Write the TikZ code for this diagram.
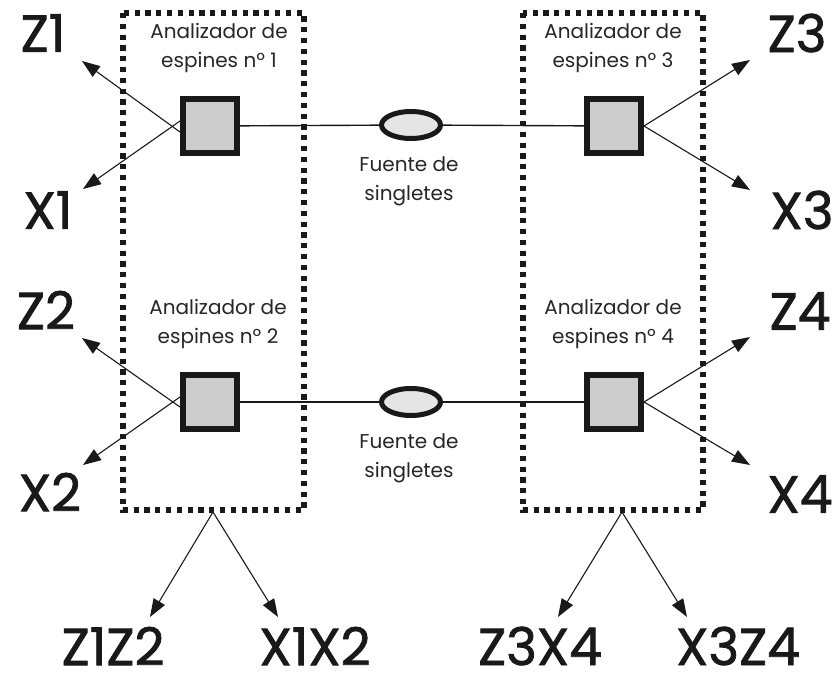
\documentclass[tikz,border=0pt]{standalone}
\usepackage{fontspec}
\setmainfont{Poppins}
\newfontfamily\bigfont[FakeBold=1.5]{Poppins}
\usetikzlibrary{arrows.meta,shapes.geometric}
\tikzset{
  dotbox/.style={line width=5.2pt, dash pattern=on 5.2pt off 5.6pt, draw=black!90},
  analyser/.style={draw=black!90, line width=6pt, fill=black!20!white, minimum size=54pt, inner sep=0pt},
  source/.style={draw=black!90, line width=5pt, fill=black!10!white, ellipse, minimum width=59pt, minimum height=27pt, inner sep=0pt},
  small/.style={font=\fontsize{20}{29}\selectfont, align=center, text=black!85, inner sep=0pt},
  big/.style={font=\bigfont\fontsize{52}{60}\selectfont, text=black!90, inner sep=0pt},
  conn/.style={line width=1.4pt, draw=black!90},
  arr/.style={line width=1.1pt, draw=black!90, -{Triangle[length=18pt,width=13pt]}},
}
\begin{document}
\begin{tikzpicture}[x=1pt,y=-1pt]
\useasboundingbox (0,0) rectangle (839,676);
% dotted boxes
\draw[dotbox] (123,13) rectangle (304,510);
\draw[dotbox] (523,13) rectangle (703,510);
% analysers and sources
\node[analyser] (s1) at (210,126) {};
\node[analyser] (s3) at (614,126) {};
\node[analyser] (s2) at (210,402) {};
\node[analyser] (s4) at (614,402) {};
\node[source] (e1) at (411,125) {};
\node[source] (e2) at (411,402) {};
\draw[conn] (s1) -- (e1) -- (s3);
\draw[conn] (s2) -- (e2) -- (s4);
% texts
\node[small] (t1) at (219,48) {Analizador de\\espines nº 1};
\node[small] (t2) at (218,324) {Analizador de\\espines nº 2};
\node[small] (t3) at (613,48) {Analizador de\\espines nº 3};
\node[small] (t4) at (613,324) {Analizador de\\espines nº 4};
\node[small] (f1) at (409,181) {Fuente de\\singletes};
\node[small] (f2) at (409,458) {Fuente de\\singletes};
% big labels
\node[big] (z1) at (43,33) {Z1};
\node[big] (x1) at (48,210) {X1};
\node[big] (z2) at (46,310) {Z2};
\node[big] (x2) at (50,492) {X2};
\node[big] (z3) at (797,33) {Z3};
\node[big] (x3) at (802,210) {X3};
\node[big] (z4) at (800,311) {Z4};
\node[big] (x4) at (800,494) {X4};
\node[big] (z1z2) at (113,646) {Z1Z2};
\node[big] (x1x2) at (315,646) {X1X2};
\node[big] (z3x4) at (540,646) {Z3X4};
\node[big] (x3z4) at (738,646) {X3Z4};
% arrow end points
\coordinate (az1) at (82,61);
\coordinate (ax1) at (83,189);
\coordinate (az2) at (82,338);
\coordinate (ax2) at (83,465);
\coordinate (az3) at (750,60);
\coordinate (ax3) at (750,190);
\coordinate (az4) at (750,337);
\coordinate (ax4) at (750,465);
\coordinate (b1) at (213,512);
\coordinate (b2) at (622,512);
\coordinate (ab1) at (150,617);
\coordinate (ab2) at (278,617);
\coordinate (ab3) at (558,617);
\coordinate (ab4) at (687,617);
% arrows
\draw[arr] ([yshift=-6pt]s1.west) -- (az1);
\draw[arr] ([yshift=5pt]s1.west) -- (ax1);
\draw[arr] ([yshift=-5pt]s2.west) -- (az2);
\draw[arr] ([yshift=5pt]s2.west) -- (ax2);
\draw[arr] (s3.east) -- (az3);
\draw[arr] (s3.east) -- (ax3);
\draw[arr] (s4.east) -- (az4);
\draw[arr] (s4.east) -- (ax4);
\draw[arr] (b1) -- (ab1);
\draw[arr] (b1) -- (ab2);
\draw[arr] (b2) -- (ab3);
\draw[arr] (b2) -- (ab4);
\end{tikzpicture}
\end{document}
